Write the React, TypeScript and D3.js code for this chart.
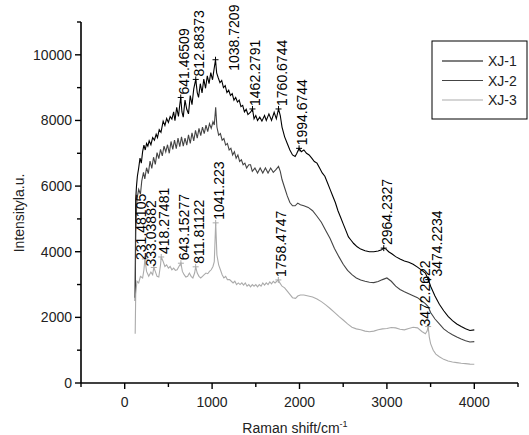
import React from 'react'
import * as d3 from 'd3'

// Raman spectra
const seriesNames = ['XJ-1', 'XJ-2', 'XJ-3']

const xj1: [number, number][] = [
  [120, 2600], [126, 5600], [135, 6000], [145, 6300], [160, 6550], [175, 6850], [190, 6700],
  [205, 7050], [220, 7250], [235, 7100], [250, 7300], [265, 7220], [280, 7380], [300, 7260],
  [320, 7480], [340, 7400], [360, 7580], [375, 7480], [395, 7720], [415, 7640], [440, 7980],
  [460, 7850], [480, 8060], [500, 7940], [520, 8120], [540, 8040], [560, 8260], [575, 7990],
  [595, 8400], [615, 8120], [630, 8480], [641, 8700], [655, 8260], [670, 8100], [690, 8620],
  [710, 8340], [730, 8200], [750, 8760], [770, 8480], [790, 8960], [813, 9250], [830, 8850],
  [845, 8700], [865, 9120], [885, 8840], [905, 9260], [925, 8980], [945, 9360], [965, 9120],
  [985, 9460], [1005, 9240], [1020, 9520], [1039, 9850], [1052, 9450], [1070, 9300],
  [1090, 9150], [1110, 9220], [1130, 9000], [1150, 9060], [1170, 8850], [1190, 8920],
  [1210, 8760], [1230, 8820], [1250, 8620], [1270, 8700], [1290, 8560], [1310, 8620],
  [1330, 8420], [1350, 8460], [1370, 8260], [1390, 8340], [1410, 8180], [1440, 8250],
  [1462, 8350], [1480, 8050], [1500, 8150], [1520, 8000], [1545, 8100], [1570, 7980],
  [1600, 8150], [1620, 8000], [1650, 8200], [1680, 8000], [1710, 8250], [1735, 8050],
  [1760, 8350], [1780, 8150], [1800, 7800], [1830, 7500], [1860, 7300], [1890, 7100],
  [1920, 6950], [1950, 6900], [1970, 7000], [1995, 7150], [2020, 7050], [2050, 7100],
  [2080, 7000], [2110, 6950], [2140, 6850], [2170, 6750], [2200, 6700], [2230, 6550],
  [2260, 6400], [2290, 6300], [2320, 6100], [2350, 5900], [2380, 5700], [2410, 5500],
  [2440, 5250], [2470, 5050], [2500, 4850], [2530, 4650], [2560, 4450], [2590, 4350],
  [2620, 4250], [2660, 4150], [2700, 4080], [2750, 4030], [2800, 4000], [2850, 4000],
  [2900, 4020], [2940, 4060], [2964, 4110], [2990, 4080], [3020, 4000], [3060, 3930],
  [3100, 3850], [3150, 3780], [3200, 3720], [3250, 3680], [3300, 3620], [3350, 3530],
  [3400, 3430], [3440, 3350], [3474, 3150], [3500, 2950], [3550, 2650], [3600, 2400],
  [3650, 2200], [3700, 2030], [3750, 1900], [3800, 1800], [3850, 1720], [3900, 1650],
  [3950, 1600], [4000, 1620],
]

const xj2: [number, number][] = [
  [120, 2500], [126, 4600], [140, 5600], [160, 5900], [180, 5750], [195, 6150], [215, 6420],
  [230, 6220], [250, 6560], [270, 6380], [290, 6760], [310, 6540], [330, 6880], [350, 6660],
  [370, 7020], [390, 6840], [410, 7120], [430, 6920], [450, 7220], [470, 7040], [490, 7260],
  [510, 7000], [530, 7360], [550, 7120], [570, 7400], [590, 7140], [610, 7460], [630, 7200],
  [650, 7500], [670, 7220], [690, 7460], [710, 7250], [730, 7560], [750, 7300], [770, 7620],
  [790, 7380], [810, 7700], [830, 7460], [850, 7760], [870, 7540], [890, 7800], [910, 7600],
  [930, 7860], [950, 7660], [970, 7900], [990, 7760], [1010, 7960], [1025, 7860], [1041, 8400],
  [1055, 7800], [1075, 7550], [1095, 7600], [1115, 7400], [1135, 7450], [1155, 7250],
  [1175, 7300], [1195, 7100], [1215, 7150], [1235, 6950], [1255, 7050], [1275, 6850],
  [1295, 6950], [1315, 6750], [1335, 6800], [1355, 6650], [1375, 6700], [1395, 6550],
  [1420, 6650], [1440, 6650], [1460, 6450], [1490, 6550], [1520, 6400], [1550, 6550],
  [1580, 6400], [1610, 6550], [1640, 6400], [1670, 6550], [1700, 6420], [1730, 6500],
  [1760, 6600], [1780, 6450], [1800, 6200], [1830, 5950], [1860, 5700], [1890, 5500],
  [1920, 5400], [1950, 5400], [1980, 5480], [2010, 5430], [2050, 5400], [2100, 5350],
  [2150, 5250], [2200, 5080], [2250, 4900], [2300, 4650], [2350, 4400], [2400, 4100],
  [2450, 3850], [2500, 3620], [2550, 3430], [2600, 3300], [2650, 3200], [2700, 3140],
  [2750, 3100], [2800, 3070], [2850, 3060], [2900, 3090], [2950, 3150], [3000, 3200],
  [3050, 3100], [3100, 2950], [3150, 2850], [3200, 2780], [3250, 2720], [3300, 2660],
  [3350, 2600], [3400, 2500], [3440, 2420], [3472, 2330], [3500, 2150], [3550, 1950],
  [3600, 1800], [3650, 1650], [3700, 1550], [3750, 1470], [3800, 1400], [3850, 1340],
  [3900, 1290], [3950, 1250], [4000, 1260],
]

const xj3: [number, number][] = [
  [120, 1500], [126, 2700], [140, 3100], [160, 3050], [180, 3250], [205, 3200], [220, 3450],
  [231, 3780], [250, 3400], [275, 3250], [300, 3380], [320, 3300], [333, 3520], [350, 3400],
  [370, 3250], [390, 3230], [410, 3600], [418, 3840], [440, 3700], [460, 3550], [480, 3600],
  [500, 3500], [520, 3550], [540, 3450], [560, 3500], [580, 3430], [600, 3450], [620, 3550],
  [643, 3650], [660, 3400], [680, 3300], [700, 3230], [720, 3250], [740, 3350], [760, 3250],
  [780, 3200], [800, 3350], [812, 3540], [830, 3350], [850, 3250], [870, 3200], [890, 3250],
  [910, 3300], [930, 3350], [950, 3330], [970, 3400], [990, 3450], [1010, 3550], [1025, 3700],
  [1041, 4880], [1055, 3900], [1075, 3600], [1095, 3450], [1115, 3300], [1135, 3200],
  [1155, 3250], [1175, 3150], [1200, 3150], [1220, 3100], [1240, 3050], [1260, 3100],
  [1280, 3000], [1300, 3050], [1320, 3000], [1340, 3050], [1360, 2980], [1380, 3050],
  [1400, 2950], [1420, 3000], [1440, 2930], [1460, 3000], [1480, 2950], [1500, 3000],
  [1520, 2930], [1540, 3000], [1560, 2950], [1580, 3050], [1600, 2980], [1620, 3050],
  [1640, 3000], [1660, 3080], [1680, 3020], [1700, 3100], [1720, 3050], [1740, 3100],
  [1758, 3140], [1775, 3050], [1800, 2950], [1830, 2900], [1860, 2800], [1890, 2700],
  [1920, 2600], [1955, 2580], [1980, 2650], [2010, 2680], [2050, 2680], [2100, 2650],
  [2150, 2620], [2200, 2560], [2250, 2480], [2300, 2380], [2350, 2270], [2400, 2150],
  [2450, 2030], [2500, 1920], [2550, 1800], [2600, 1700], [2650, 1650], [2700, 1620],
  [2750, 1580], [2800, 1560], [2850, 1580], [2900, 1620], [2950, 1650], [3000, 1660],
  [3050, 1690], [3100, 1680], [3150, 1640], [3200, 1620], [3250, 1660], [3300, 1700],
  [3350, 1680], [3400, 1570], [3440, 1500], [3460, 1580], [3472, 1720], [3485, 1400],
  [3500, 1200], [3530, 1000], [3560, 880], [3600, 800], [3650, 720], [3700, 670],
  [3750, 640], [3800, 620], [3850, 600], [3900, 590], [3950, 575], [4000, 570],
]

// peak labels: [series index, peak x as written, x of the point in the data]
const peakLabels: [number, string, number][] = [
  [0, '641.46509', 641], [0, '812.88373', 813], [0, '1038.7209', 1039], [0, '1462.2791', 1462],
  [0, '1760.6744', 1760], [0, '1994.6744', 1995], [0, '2964.2327', 2964], [0, '3474.2234', 3474],
  [2, '231.48105', 231], [2, '333.03882', 333], [2, '418.27481', 418], [2, '643.15277', 643],
  [2, '811.81122', 812], [2, '1041.223', 1041], [2, '1758.4747', 1758], [2, '3472.2622', 3472],
]

const xMajor = [0, 1000, 2000, 3000, 4000]
const xMinor = [-500, 500, 1500, 2500, 3500, 4500]
const yMajor = [0, 2000, 4000, 6000, 8000, 10000]
const yMinor = [1000, 3000, 5000, 7000, 9000, 11000]

const colors = ['#000000', '#444444', '#ababab']
// small hand nudges so labels don't collide, like in the original
const nudge: Record<string, [number, number]> = {
  '1038.7209': [15, 14],
  '231.48105': [-7, 4],
  '333.03882': [-6, 2],
  '3472.2622': [-6, 3],
  '3474.2234': [6, 0],
}

const font = '"Liberation Sans", Arial, sans-serif'

export default function App() {
  const width = 529
  const height = 435
  const x = d3.scaleLinear().domain([-500, 4500]).range([81, 518])
  const y = d3.scaleLinear().domain([0, 11000]).range([383, 22])
  const line = d3.line<[number, number]>().x(d => x(d[0])).y(d => y(d[1]))
  const series = [xj1, xj2, xj3]

  return (
    <svg width={width} height={height} style={{ position: 'absolute', left: 0, top: 0, background: '#fff' }} fontFamily={font}>
      {series.map((s, i) => (
        <path key={i} d={line(s) || ''} fill="none" stroke={colors[i]} strokeWidth={1.1} />
      ))}

      {peakLabels.map(([si, text, px], i) => {
        const pt = series[si].find(d => d[0] === px)!
        const cx = x(pt[0])
        const cy = y(pt[1])
        const [dx, dy] = nudge[text] || [0, 0]
        return (
          <g key={i}>
            <path d={`M${cx - 3},${cy}H${cx + 3}M${cx},${cy - 3}V${cy + 3}`} stroke={colors[si]} strokeWidth={1} />
            <text transform={`translate(${cx + 8 + dx},${cy - 3 + dy}) rotate(-90)`} fontSize={14} fill="#000">
              {text}
            </text>
          </g>
        )
      })}

      {/* axes */}
      <line x1={x(-500)} x2={x(4500)} y1={y(0)} y2={y(0)} stroke="#000" strokeWidth={1.6} />
      <line x1={x(-500)} x2={x(-500)} y1={y(0)} y2={y(11000)} stroke="#000" strokeWidth={1.6} />
      {xMajor.map(t => (
        <g key={t}>
          <line x1={x(t)} x2={x(t)} y1={y(0)} y2={y(0) + 6} stroke="#000" strokeWidth={1.4} />
          <text x={x(t)} y={407} textAnchor="middle" fontSize={14} fill="#222">{t}</text>
        </g>
      ))}
      {xMinor.map(t => (
        <line key={t} x1={x(t)} x2={x(t)} y1={y(0)} y2={y(0) + 4} stroke="#000" strokeWidth={1.4} />
      ))}
      {yMajor.map(t => (
        <g key={t}>
          <line x1={x(-500) - 6} x2={x(-500)} y1={y(t)} y2={y(t)} stroke="#000" strokeWidth={1.4} />
          <text x={72} y={y(t) + 5} textAnchor="end" fontSize={14} fill="#222">{t}</text>
        </g>
      ))}
      {yMinor.map(t => (
        <line key={t} x1={x(-500) - 4} x2={x(-500)} y1={y(t)} y2={y(t)} stroke="#000" strokeWidth={1.4} />
      ))}

      <text x={295} y={433} textAnchor="middle" fontSize={14} fill="#222">
        Raman shift/cm<tspan fontSize={9} dy={-6}>-1</tspan>
      </text>
      <text transform="translate(24,213) rotate(-90)" textAnchor="middle" fontSize={14} fill="#222">
        Intensityla.u.
      </text>

      {/* legend */}
      <rect x={432} y={41} width={95} height={78} fill="none" stroke="#000" strokeWidth={1} />
      {seriesNames.map((n, i) => (
        <g key={n}>
          <line x1={442} x2={483} y1={61 + i * 19.5} y2={61 + i * 19.5} stroke={colors[i]} strokeWidth={1.2} />
          <text x={488} y={66 + i * 19.5} fontSize={14} fill="#222">{n}</text>
        </g>
      ))}
    </svg>
  )
}
